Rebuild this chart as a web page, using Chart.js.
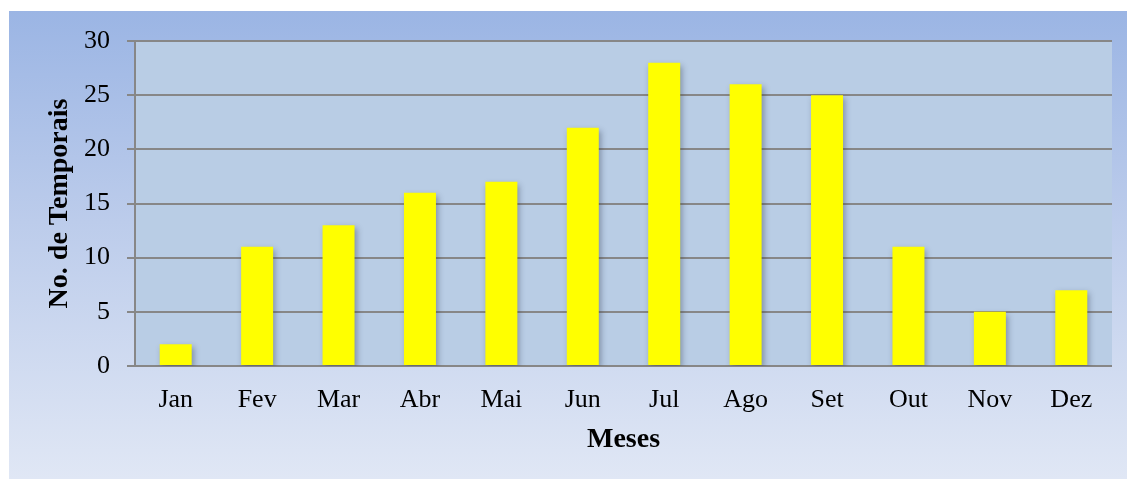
<!DOCTYPE html>
<html>
<head>
<meta charset="utf-8">
<script src="https://cdn.jsdelivr.net/npm/chart.js@4.4.0/dist/chart.umd.min.js"></script>
<style>
  html, body { margin: 0; padding: 0; background: #ffffff; }
  #wrap { width: 1127px; height: 479px; position: relative; }
</style>
</head>
<body>
<div id="wrap"><canvas id="c" width="1127" height="479"></canvas></div>
<script>
const categories = ['Jan', 'Fev', 'Mar', 'Abr', 'Mai', 'Jun', 'Jul', 'Ago', 'Set', 'Out', 'Nov', 'Dez'];
const temporais = [2, 11, 13, 16, 17, 22, 28, 26, 25, 11, 5, 7];
const yTicks = [0, 5, 10, 15, 20, 25, 30];
const yTitle = 'No. de Temporais';
const xTitle = 'Meses';

const FONT = "'Liberation Serif', 'DejaVu Serif', serif";

const bgPlugin = {
  id: 'bgPlugin',
  beforeDraw(chart) {
    const ctx = chart.ctx;
    const W = chart.width, H = chart.height;
    ctx.save();
    ctx.fillStyle = '#ffffff';
    ctx.fillRect(0, 0, W, H);
    const g = ctx.createLinearGradient(0, 11, 0, H);
    g.addColorStop(0, '#9bb5e4');
    g.addColorStop(0.45, '#bccceb');
    g.addColorStop(1, '#e0e7f5');
    ctx.fillStyle = g;
    ctx.fillRect(9, 11, W - 9, H - 11);
    const a = chart.chartArea;
    ctx.fillStyle = '#b9cde5';
    ctx.fillRect(a.left, a.top, a.right - a.left, a.bottom - a.top);
    ctx.restore();
  },
  beforeDatasetsDraw(chart) {
    const ctx = chart.ctx;
    ctx.save();
    ctx.shadowColor = 'rgba(40,50,70,0.4)';
    ctx.shadowBlur = 6;
    ctx.shadowOffsetX = 2;
    ctx.shadowOffsetY = 3;
  },
  afterDatasetsDraw(chart) {
    chart.ctx.restore();
  }
};

new Chart(document.getElementById('c'), {
  type: 'bar',
  data: {
    labels: categories,
    datasets: [{
      data: temporais,
      backgroundColor: '#ffff00',
      borderWidth: 0,
      barPercentage: 0.393,
      categoryPercentage: 1.0
    }]
  },
  options: {
    responsive: false,
    animation: false,
    devicePixelRatio: 1,
    layout: { padding: { left: 0, right: 15, top: 41, bottom: 0 } },
    plugins: {
      legend: { display: false },
      tooltip: { enabled: false }
    },
    scales: {
      x: {
        grid: { display: false, drawTicks: false },
        border: { display: false },
        ticks: {
          color: '#000000',
          padding: 19,
          font: { family: FONT, size: 26 },
          maxRotation: 0
        },
        title: {
          display: true,
          text: xTitle,
          color: '#000000',
          font: { family: FONT, size: 28, weight: 'bold' },
          padding: { top: 0, bottom: 22 }
        },
        afterFit(scale) { scale.height = 113; }
      },
      y: {
        min: 0,
        max: 30,
        afterBuildTicks(scale) { scale.ticks = yTicks.map(v => ({ value: v })); },
        grid: {
          color: '#878787',
          lineWidth: 2,
          drawTicks: true,
          tickLength: 8
        },
        border: { display: true, color: '#878787', width: 2 },
        ticks: {
          color: '#000000',
          padding: 17,
          font: { family: FONT, size: 26 }
        },
        title: {
          display: true,
          text: yTitle,
          color: '#000000',
          font: { family: FONT, size: 28, weight: 'bold' },
          padding: { top: 43, bottom: 0 }
        },
        afterFit(scale) { scale.width = 135; }
      }
    }
  },
  plugins: [bgPlugin]
});
</script>
</body>
</html>
